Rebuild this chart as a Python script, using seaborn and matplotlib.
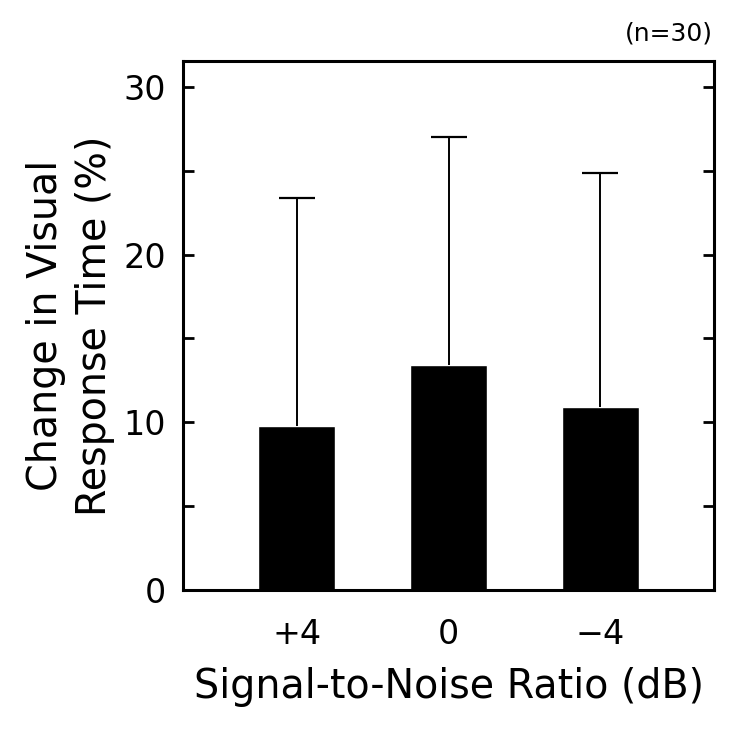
import numpy as np
import pandas as pd
import matplotlib
matplotlib.use("Agg")
import matplotlib.pyplot as plt
import seaborn as sns

snr = ["+4", "0", "\u22124"]
change = [9.8, 13.4, 10.9]
err_top = [23.4, 27.0, 24.9]

df = pd.DataFrame({"snr": snr, "change": change})
upper = np.array(err_top) - np.array(change)

sns.set_style("ticks")
plt.rcParams["font.family"] = ["DejaVu Sans"]
plt.rcParams["text.color"] = "black"
plt.rcParams["axes.labelcolor"] = "black"
plt.rcParams["xtick.color"] = "black"
plt.rcParams["ytick.color"] = "black"

fig = plt.figure(figsize=(7.37, 7.29), dpi=100)
ax = fig.add_axes([183 / 737, 1 - 590 / 729, 531 / 737, 529 / 729])

sns.barplot(data=df, x="snr", y="change", color="black", width=0.51,
            errorbar=None, saturation=1, ax=ax)
eb = ax.errorbar(range(len(snr)), change, yerr=[np.zeros(len(snr)), upper],
                 fmt="none", ecolor="black", elinewidth=1.4, capsize=13,
                 capthick=1.6)
# only the upper cap is drawn in the original
eb[1][0].set_visible(False)

ax.set_xlim(-0.75, 2.75)
ax.set_ylim(0, 31.55)
ax.set_yticks([0, 10, 20, 30])
ax.set_yticks([5, 15, 25], minor=True)
ax.tick_params(axis="y", which="both", direction="in", length=8, width=2,
               right=True, labelsize=24, pad=12)
ax.tick_params(axis="x", length=0, labelsize=24, pad=20)
for s in ax.spines.values():
    s.set_visible(True)
    s.set_linewidth(2.2)
    s.set_color("black")

ax.set_xlabel("Signal-to-Noise Ratio (dB)", fontsize=28.5, labelpad=12)
ax.set_ylabel("Change in Visual\nResponse Time (%)", fontsize=28.5, labelpad=6,
              linespacing=1.3)
fig.text(713 / 737, 1 - 33 / 729, "(n=30)", ha="right", va="center", fontsize=18)

fig.savefig("out.png", dpi=100)
